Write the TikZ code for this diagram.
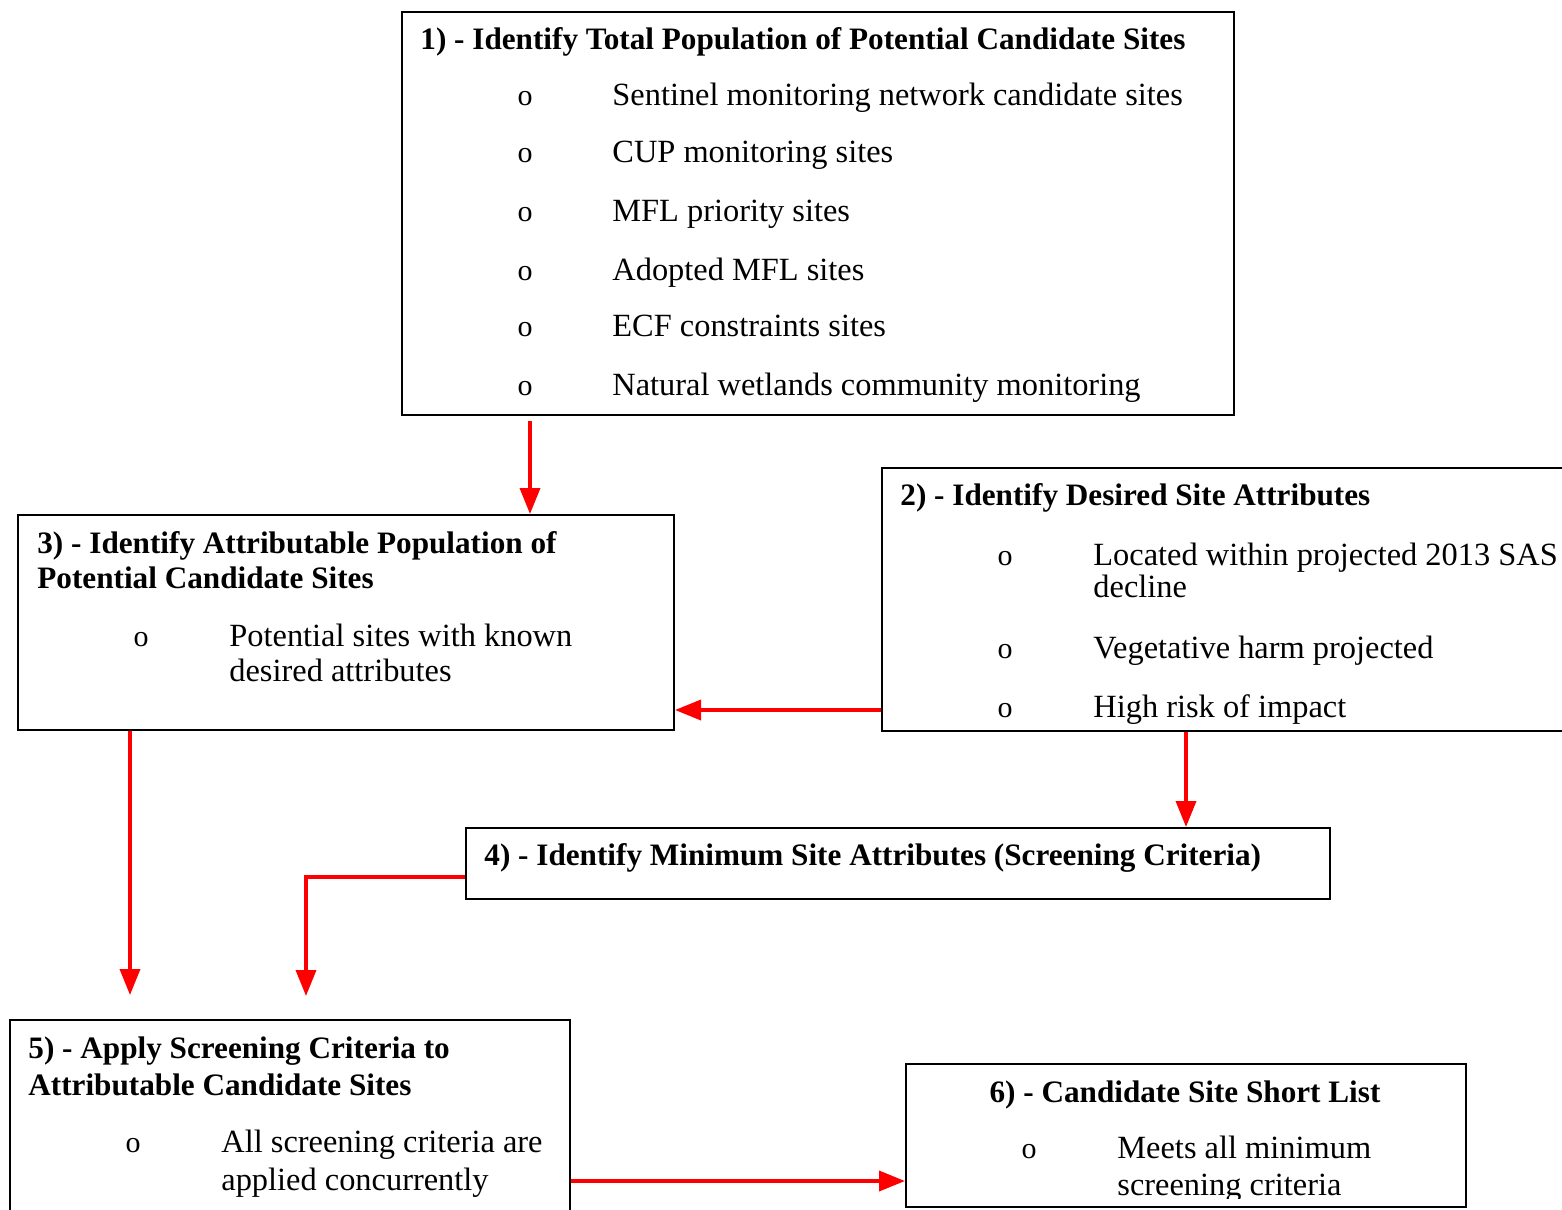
\documentclass[tikz,border=0pt]{standalone}
\usepackage{fontspec}
\setmainfont{Liberation Serif}
\usepackage{tikz}
\usetikzlibrary{calc,arrows.meta,fit}

\begin{document}
\begin{tikzpicture}[x=0.5pt,y=-0.5pt,
	box/.style={draw,line width=1pt,inner sep=0pt},
	head/.style={anchor=base west,inner sep=0pt,font=\fontsize{15.6}{18}\selectfont\bfseries},
	item/.style={anchor=base west,inner sep=0pt,font=\fontsize{16.2}{19}\selectfont},
	bul/.style={anchor=base,inner sep=0pt,font=\fontsize{15}{18}\selectfont},
	flow/.style={red,line width=1.8pt,-{Triangle[length=13pt,width=10pt]}}]
\useasboundingbox (0,0) rectangle (1562,1209);

%boxes
\node[box,fit={(402,12) (1234,415)}] (b1) {};
\node[box,fit={(882,468) (1568,731)}] (b2) {};
\node[box,fit={(18,515) (674,730)}] (b3) {};
\node[box,fit={(466,828) (1330,899)}] (b4) {};
\node[box,fit={(10,1020) (570,1216)}] (b5) {};
\node[box,fit={(906,1064) (1466,1207)}] (b6) {};

%box 1
\node[head] (h1) at (420,50) {1) - Identify Total Population of Potential Candidate Sites};
\foreach \y/\t [count=\i] in {106/Sentinel monitoring network candidate sites,
	163/CUP monitoring sites,221/MFL priority sites,280/Adopted MFL sites,
	336/ECF constraints sites,395/Natural wetlands community monitoring}{
	\node[bul] (o1\i) at (525,\y) {o};
	\node[item] (i1\i) at (612,\y) {\t};
}

%box 2
\node[head] (h2) at (900,505) {2) - Identify Desired Site Attributes};
\node[bul] (o21) at (1005,565) {o};
\node[item] (i21) at (1093,565) {Located within projected 2013 SAS};
\node[item] (i21b) at (1093,597) {decline};
\node[bul] (o22) at (1005,658) {o};
\node[item] (i22) at (1093,658) {Vegetative harm projected};
\node[bul] (o23) at (1005,717) {o};
\node[item] (i23) at (1093,717) {High risk of impact};

%box 3
\node[head] (h3) at (37,553) {3) - Identify Attributable Population of};
\node[head] (h3b) at (37,588) {Potential Candidate Sites};
\node[bul] (o31) at (141,646) {o};
\node[item] (i31) at (229,646) {Potential sites with known};
\node[item] (i31b) at (229,681) {desired attributes};

%box 4
\node[head] (h4) at (484,865) {4) - Identify Minimum Site Attributes (Screening Criteria)};

%box 5
\node[head] (h5) at (28,1058) {5) - Apply Screening Criteria to};
\node[head] (h5b) at (28,1095) {Attributable Candidate Sites};
\node[bul] (o51) at (133,1152) {o};
\node[item] (i51) at (221,1152) {All screening criteria are};
\node[item] (i51b) at (221,1190) {applied concurrently};

%box 6
\node[head,anchor=base] (h6) at (1185,1102) {6) - Candidate Site Short List};
\begin{scope}
\clip (906,1064) rectangle (1466,1198);
\node[bul] (o61) at (1029,1158) {o};
\node[item] (i61) at (1117,1158) {Meets all minimum};
\node[item] (i61b) at (1117,1195) {screening criteria};
\end{scope}

%arrows
\coordinate (e35) at (130,995);
\coordinate (e45) at (306,996);
\draw[flow] ($(b1.south -| 530,0)+(0,5)$) -- (b3.north -| 530,0);
\draw[flow] (b2.west |- 0,710) -- (b3.east |- 0,710);
\draw[flow] (b2.south -| 1186,0) -- (b4.north -| 1186,0);
\draw[flow] (b3.south -| e35) -- (e35);
\draw[flow] (b4.west |- 0,877) -| (e45);
\draw[flow] (b5.east |- 0,1181) -- (b6.west |- 0,1181);
\end{tikzpicture}
\end{document}
